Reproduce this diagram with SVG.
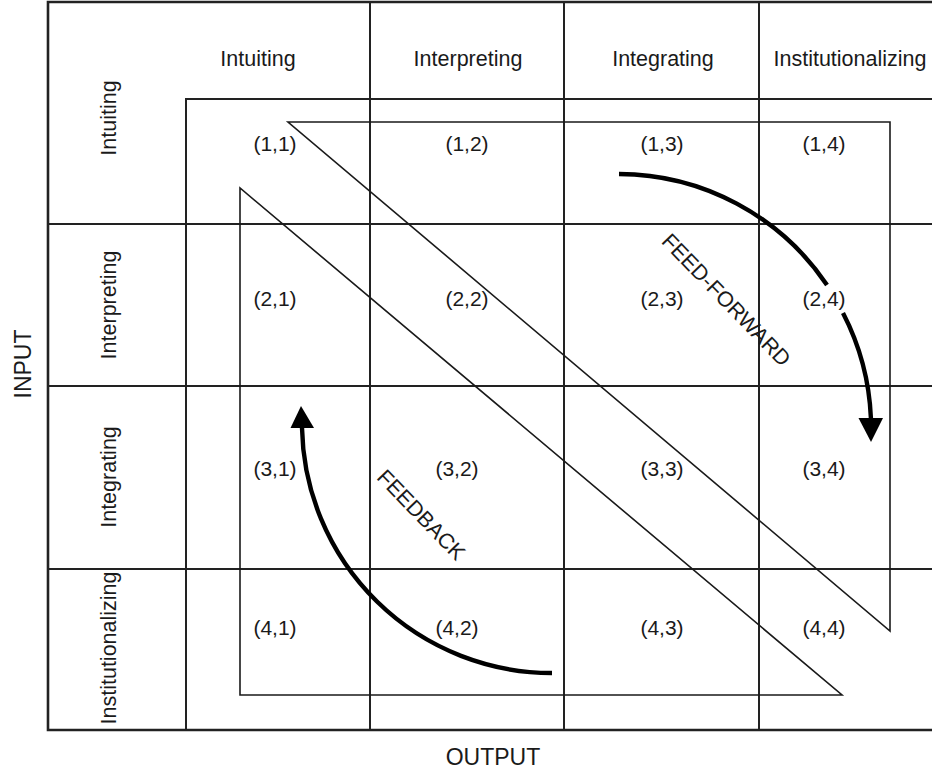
<svg xmlns="http://www.w3.org/2000/svg" width="932" height="773" viewBox="0 0 932 773">
  <style>
    .grid { stroke: #222; stroke-width: 2; fill: none; }
    .frame { stroke: #222; stroke-width: 2.6; fill: none; }
    .tri { stroke: #1a1a1a; stroke-width: 1.6; fill: none; stroke-linejoin: miter; }
    .arc { stroke: #000; stroke-width: 4.4; fill: none; }
    .head { fill: #000; }
    text { font-family: "Liberation Sans", Arial, Helvetica, sans-serif; fill: #1a1a1a; }
    .hdr { font-size: 21.5px; text-anchor: middle; }
    .cell { font-size: 21px; text-anchor: middle; }
    .axis { font-size: 23px; text-anchor: middle; }
    .flow { font-size: 21.5px; text-anchor: middle; }
  </style>

  <rect x="0" y="0" width="932" height="773" fill="#fff"/>

  <!-- table frame and grid -->
  <g id="grid">
    <path class="frame" d="M932,2 H48 V730 H932"/>
    <path class="grid" d="M48,224 H932 M48,386 H932 M48,569 H932"/>
    <path class="grid" d="M370,2 V730 M564,2 V730 M759,2 V730"/>
    <path class="grid" d="M932,99 H186 V730"/>
  </g>

  <!-- the two diagonal bands -->
  <g id="bands">
    <path class="tri" d="M288,122 H890 V631 Z"/>
    <path class="tri" d="M240,188 V695 H842 Z"/>
  </g>

  <!-- axis titles -->
  <g id="axes">
    <text class="axis" transform="translate(31,364) rotate(-90)">INPUT</text>
    <text class="axis" x="493" y="765">OUTPUT</text>
  </g>

  <!-- output column headers -->
  <g id="col-headers">
    <g id="col-intuiting"><text class="hdr" x="258" y="66">Intuiting</text></g>
    <g id="col-interpreting"><text class="hdr" x="468" y="66">Interpreting</text></g>
    <g id="col-integrating"><text class="hdr" x="663" y="66">Integrating</text></g>
    <g id="col-institutionalizing"><text class="hdr" x="850" y="66">Institutionalizing</text></g>
  </g>

  <!-- input row headers -->
  <g id="row-headers">
    <g id="row-intuiting"><text class="hdr" transform="translate(116,118) rotate(-90)">Intuiting</text></g>
    <g id="row-interpreting"><text class="hdr" transform="translate(116,305) rotate(-90)">Interpreting</text></g>
    <g id="row-integrating"><text class="hdr" transform="translate(116,477) rotate(-90)">Integrating</text></g>
    <g id="row-institutionalizing"><text class="hdr" transform="translate(116,648) rotate(-90)">Institutionalizing</text></g>
  </g>

  <!-- cells -->
  <g id="cells">
    <g id="cell-1-1"><text class="cell" x="275" y="151">(1,1)</text></g>
    <g id="cell-1-2"><text class="cell" x="467" y="151">(1,2)</text></g>
    <g id="cell-1-3"><text class="cell" x="662" y="151">(1,3)</text></g>
    <g id="cell-1-4"><text class="cell" x="824" y="151">(1,4)</text></g>

    <g id="cell-2-1"><text class="cell" x="275" y="306">(2,1)</text></g>
    <g id="cell-2-2"><text class="cell" x="467" y="306">(2,2)</text></g>
    <g id="cell-2-3"><text class="cell" x="662" y="306">(2,3)</text></g>
    <g id="cell-2-4"><text class="cell" x="824" y="306">(2,4)</text></g>

    <g id="cell-3-1"><text class="cell" x="275" y="476">(3,1)</text></g>
    <g id="cell-3-2"><text class="cell" x="457" y="476">(3,2)</text></g>
    <g id="cell-3-3"><text class="cell" x="662" y="476">(3,3)</text></g>
    <g id="cell-3-4"><text class="cell" x="824" y="476">(3,4)</text></g>

    <g id="cell-4-1"><text class="cell" x="275" y="635">(4,1)</text></g>
    <g id="cell-4-2"><text class="cell" x="457" y="635">(4,2)</text></g>
    <g id="cell-4-3"><text class="cell" x="662" y="635">(4,3)</text></g>
    <g id="cell-4-4"><text class="cell" x="824" y="635">(4,4)</text></g>
  </g>

  <!-- curved flow arrows -->
  <g id="connectors">
    <g id="feed-forward">
      <path class="arc" d="M619,174 A252,252 0 0 1 827,285"/>
      <path class="arc" d="M843,313 A252,252 0 0 1 870.9,418"/>
      <polygon class="head" points="858.5,418 883,418 871,442"/>
      <text class="flow" transform="translate(721,305) rotate(46)">FEED-FORWARD</text>
    </g>
    <g id="feedback">
      <path class="arc" d="M552,673 A250,250 0 0 1 302,428"/>
      <polygon class="head" points="290.5,428 314,428 301,406"/>
      <text class="flow" transform="translate(416,520) rotate(46)">FEEDBACK</text>
    </g>
  </g>
</svg>
